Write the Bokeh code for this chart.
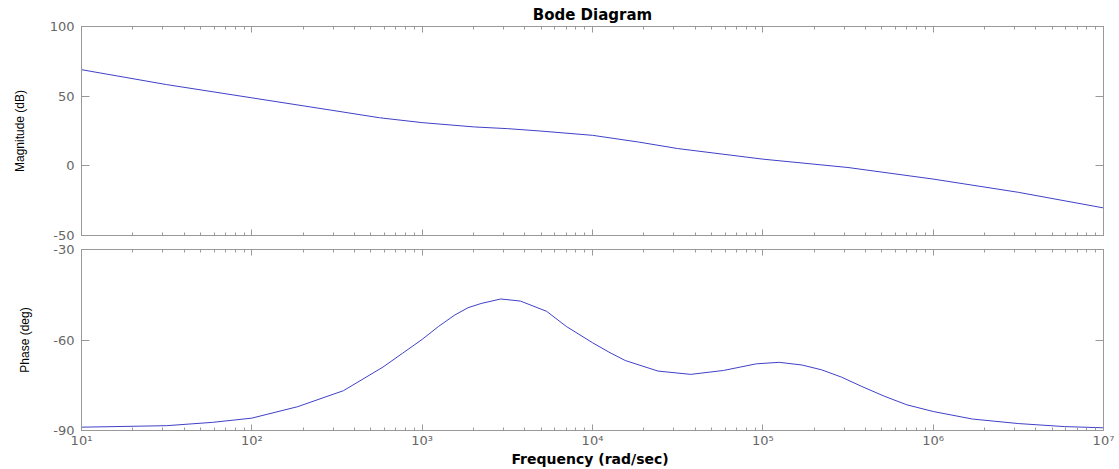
from bokeh.plotting import figure
from bokeh.models import Range1d, LinearAxis, LogAxis, FixedTicker
from bokeh.layouts import column
from bokeh.embed import file_html
from bokeh.resources import INLINE

# ---- data ----
mag_freq = [10, 31.6, 100, 316, 562, 1000, 2031, 3162, 4920, 10000, 18590, 31620,
            100000, 316200, 1000000, 3162000, 10000000]
mag_db = [69.0, 58.3, 48.8, 39.3, 34.5, 31.0, 27.9, 26.7, 25.0, 21.9, 17.1, 12.4,
          4.8, -1.2, -9.5, -19.0, -30.2]

phase_freq = [10, 31.6, 58.9, 100, 186, 345, 588, 767, 1000, 1248, 1556, 1858, 2218,
              2894, 3777, 5380, 7017, 10000, 12480, 15560, 24240, 37760, 58780, 91540,
              124800, 170100, 221800, 289400, 377600, 515000, 701500, 1000000, 1700000,
              3162000, 5880000, 10000000]
phase_deg = [-88.9, -88.4, -87.3, -85.9, -82.1, -76.8, -69.0, -64.4, -59.8, -55.5, -51.7,
             -49.3, -47.9, -46.4, -47.1, -50.5, -55.5, -60.9, -64.0, -66.8, -70.3, -71.4,
             -70.1, -67.9, -67.4, -68.3, -69.9, -72.3, -75.3, -78.6, -81.5, -83.7, -86.2,
             -87.7, -88.7, -89.1]

decade_ticks = [10, 100, 1000, 10000, 100000, 1000000, 10000000]
decade_labels = ["10¹", "10²", "10³", "10⁴", "10⁵", "10⁶", "10⁷"]
mag_ticks = [-50, 0, 50, 100]
mag_tick_labels = ["-50", "0", "50", "100"]
phase_ticks = [-90, -60, -30]
phase_tick_labels = ["-90", "-60", "-30"]

title_text = "Bode Diagram"
mag_label = "Magnitude (dB)"
phase_label = "Phase (deg)"
freq_label = "Frequency  (rad/sec)"

minor_ticks = [m * d for d in decade_ticks[:-1] for m in range(2, 10)]

GRAY = "#999999"
LABEL_GRAY = "#666666"
LINE = "#4040c8"
TICK_FONT = "DejaVu Sans"
BOLD_FONT = "DejaVu Sans"
YLAB_FONT = "Liberation Sans"


def style_x(ax, show):
    ax.ticker = FixedTicker(ticks=decade_ticks, minor_ticks=minor_ticks)
    ax.axis_line_color = GRAY
    ax.major_tick_line_color = GRAY
    ax.minor_tick_line_color = GRAY
    ax.major_tick_in = 6
    ax.major_tick_out = 0
    ax.minor_tick_in = 3
    ax.minor_tick_out = 0
    if show:
        ax.major_label_overrides = {t: l for t, l in zip(decade_ticks, decade_labels)}
        ax.major_label_text_font = TICK_FONT
        ax.major_label_text_font_size = "13px"
        ax.major_label_text_color = LABEL_GRAY
        ax.major_label_standoff = 2
    else:
        ax.major_label_overrides = {t: "" for t in decade_ticks}
        ax.major_label_text_font_size = "0px"
        ax.major_label_standoff = 0


def style_y(ax, ticks, labels, show, label=None, label_standoff=24):
    ax.ticker = FixedTicker(ticks=ticks)
    ax.axis_line_color = GRAY
    ax.major_tick_line_color = GRAY
    ax.minor_tick_line_color = None
    ax.major_tick_in = 8
    ax.major_tick_out = 0
    if show:
        ax.major_label_overrides = {t: l for t, l in zip(ticks, labels)}
        ax.major_label_text_font = TICK_FONT
        ax.major_label_text_font_size = "13px"
        ax.major_label_text_color = LABEL_GRAY
        ax.major_label_standoff = 7
        ax.axis_label = label
        ax.axis_label_text_font = YLAB_FONT
        ax.axis_label_text_font_style = "normal"
        ax.axis_label_text_font_size = "12px"
        ax.axis_label_text_color = "black"
        ax.axis_label_standoff = label_standoff
    else:
        ax.major_label_overrides = {t: "" for t in ticks}
        ax.major_label_text_font_size = "0px"
        ax.major_label_standoff = 0


def panel(height, yr, top, bottom):
    p = figure(width=1117, height=height, x_axis_type="log",
               x_range=Range1d(10, 1e7), y_range=yr,
               output_backend="svg", toolbar_location=None,
               min_border_left=81, min_border_right=14,
               min_border_top=top, min_border_bottom=bottom)
    p.grid.visible = False
    p.outline_line_color = GRAY
    p.background_fill_color = "white"
    p.border_fill_color = "white"
    return p


# ---- magnitude panel ----
p1 = panel(242, Range1d(-50, 100), 26, 7)
style_x(p1.xaxis[0], False)
style_y(p1.yaxis[0], mag_ticks, mag_tick_labels, True, mag_label, 20)
top1 = LogAxis()
style_x(top1, False)
top1.axis_label = title_text
top1.axis_label_text_font = BOLD_FONT
top1.axis_label_text_font_style = "bold"
top1.axis_label_text_font_size = "15px"
top1.axis_label_text_color = "black"
top1.axis_label_standoff = 3
p1.add_layout(top1, "above")
r1 = LinearAxis()
style_y(r1, mag_ticks, mag_tick_labels, False)
p1.add_layout(r1, "right")
p1.line(mag_freq, mag_db, line_color=LINE, line_width=1)

# ---- phase panel ----
p2 = panel(227, Range1d(-90, -30), 7, 38)
style_x(p2.xaxis[0], True)
p2.xaxis[0].axis_label = freq_label
p2.xaxis[0].axis_label_text_font = BOLD_FONT
p2.xaxis[0].axis_label_text_font_style = "bold"
p2.xaxis[0].axis_label_text_font_size = "14px"
p2.xaxis[0].axis_label_text_color = "black"
p2.xaxis[0].axis_label_standoff = 0
style_y(p2.yaxis[0], phase_ticks, phase_tick_labels, True, phase_label, 18)
top2 = LogAxis()
style_x(top2, False)
p2.add_layout(top2, "above")
r2 = LinearAxis()
style_y(r2, phase_ticks, phase_tick_labels, False)
p2.add_layout(r2, "right")
p2.line(phase_freq, phase_deg, line_color=LINE, line_width=1)

layout = column(p1, p2, spacing=0)
open("out.html", "w").write(file_html(layout, INLINE))
